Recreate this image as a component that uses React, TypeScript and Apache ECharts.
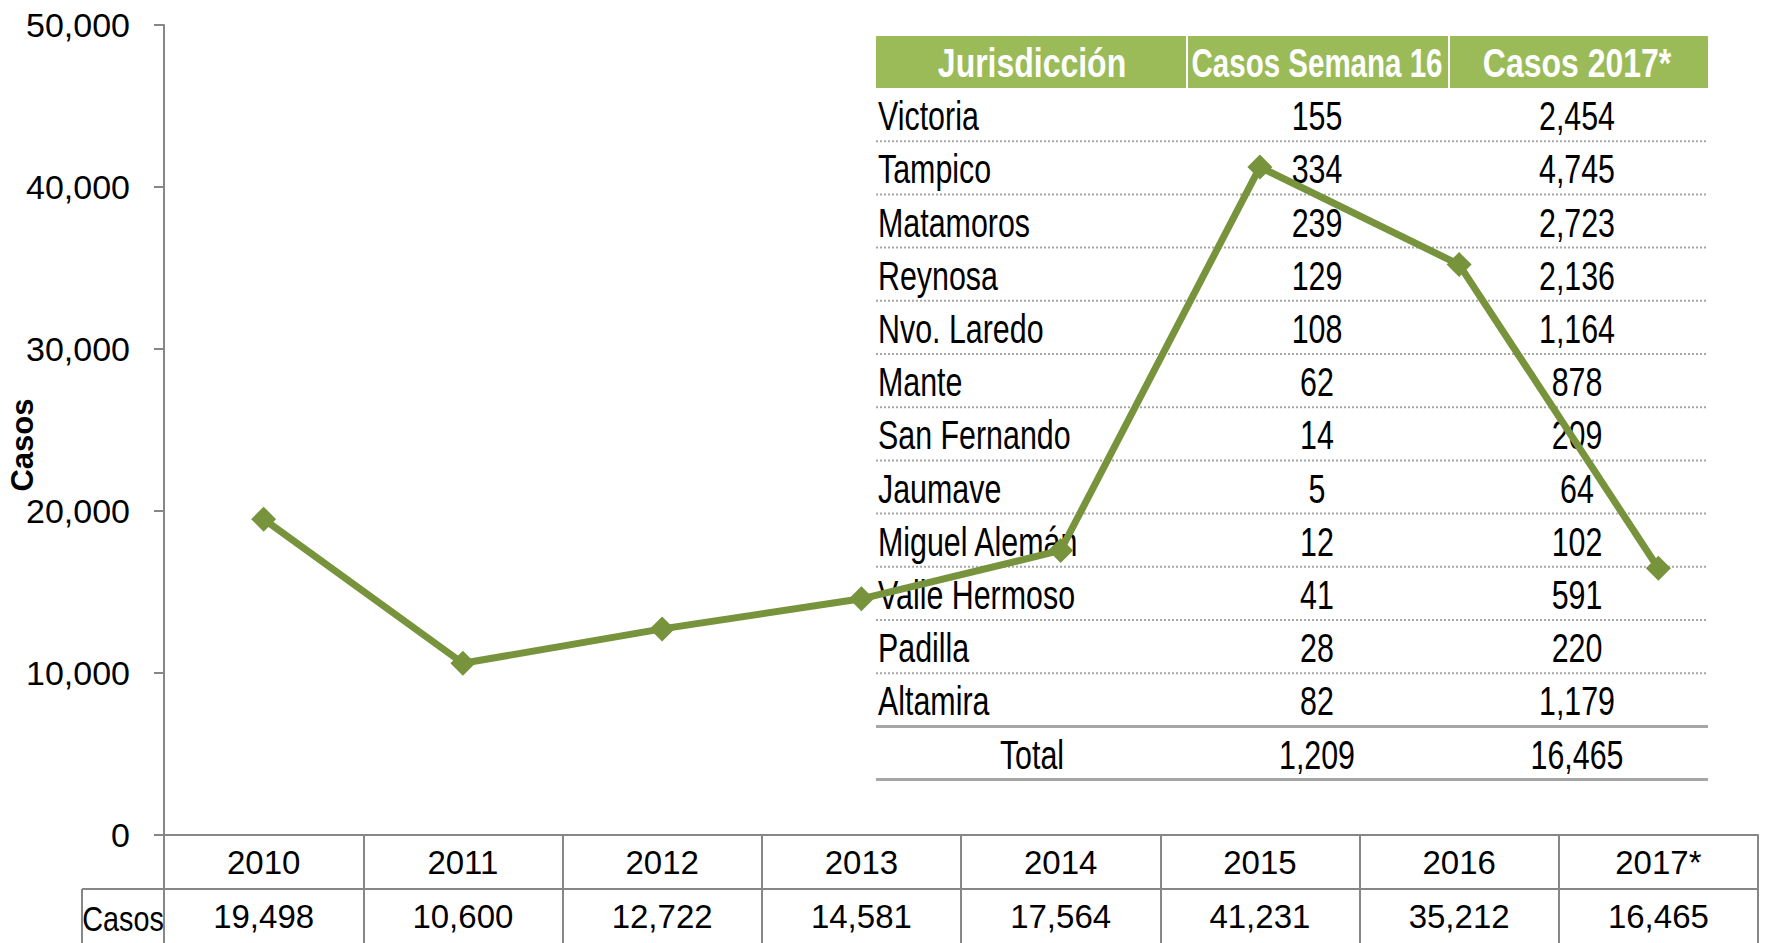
import React, { useEffect, useRef } from "react";
import * as echarts from "echarts";

const years = ["2010", "2011", "2012", "2013", "2014", "2015", "2016", "2017*"];
const casos = [19498, 10600, 12722, 14581, 17564, 41231, 35212, 16465];

const tableHeaders = ["Jurisdicción", "Casos Semana 16", "Casos 2017*"];
const jurisdicciones = [
  "Victoria", "Tampico", "Matamoros", "Reynosa", "Nvo. Laredo", "Mante",
  "San Fernando", "Jaumave", "Miguel Alemán", "Valle Hermoso", "Padilla", "Altamira",
];
const casosSemana16 = [155, 334, 239, 129, 108, 62, 14, 5, 12, 41, 28, 82];
const casos2017 = [2454, 4745, 2723, 2136, 1164, 878, 209, 64, 102, 591, 220, 1179];
const totalLabel = "Total";
const totalSemana16 = 1209;
const totalCasos2017 = 16465;
const rowLabel = "Casos";

const FONT = "'Liberation Sans', Arial, sans-serif";
const GREEN = "#77933C";
const HEADER_GREEN = "#9BBB59";
const GRAY = "#878787";
const LINE_GRAY = "#A6A6A6";

const fmt = (n: number) => n.toLocaleString("en-US");

export default function App() {
  const ref = useRef<HTMLDivElement>(null);
  useEffect(() => {
    if (!ref.current) return;
    const chart = echarts.init(ref.current, undefined, { renderer: "svg" });

    const tLeft = 876, tRight = 1708, hTop = 36, hBottom = 88, rowH = 53.2;
    const sep1 = 1187, sep2 = 1449;
    const c1 = 878, c1c = 1032, c2 = 1317, c3 = 1577;
    const SX = 0.76;
    const txt = (x: number, y: number, text: string, align: string, extra: any = {}, sx = SX) => ({
      type: "text", z: 3, x, y, scaleX: sx,
      style: { text, fontFamily: FONT, fontSize: 40, fill: "#000", align, verticalAlign: "middle", ...extra },
    });

    const g: any[] = [];
    g.push({ type: "rect", z: 1, shape: { x: tLeft, y: hTop, width: tRight - tLeft, height: hBottom - hTop }, style: { fill: HEADER_GREEN } });
    g.push({ type: "line", z: 2, shape: { x1: sep1, y1: hTop, x2: sep1, y2: hBottom }, style: { stroke: "#fff", lineWidth: 2 } });
    g.push({ type: "line", z: 2, shape: { x1: sep2, y1: hTop, x2: sep2, y2: hBottom }, style: { stroke: "#fff", lineWidth: 2 } });
    [c1c, c2, c3].forEach((cx, i) => {
      g.push(txt(cx, (hTop + hBottom) / 2 + 1, tableHeaders[i], "center", { fill: "#fff", fontWeight: "bold", fontSize: 41 }, i === 1 ? 0.72 : 0.78));
    });
    jurisdicciones.forEach((name, i) => {
      const cy = hBottom + rowH * (i + 0.5) + 2;
      g.push(txt(c1, cy, name, "left"));
      g.push(txt(c2, cy, fmt(casosSemana16[i]), "center"));
      g.push(txt(c3, cy, fmt(casos2017[i]), "center"));
      const ly = hBottom + rowH * (i + 1);
      if (i < jurisdicciones.length - 1) {
        g.push({ type: "line", z: 2, shape: { x1: tLeft, y1: ly, x2: tRight, y2: ly }, style: { stroke: LINE_GRAY, lineWidth: 2, lineDash: [2, 2] } });
      } else {
        g.push({ type: "line", z: 2, shape: { x1: tLeft, y1: ly, x2: tRight, y2: ly }, style: { stroke: LINE_GRAY, lineWidth: 3 } });
      }
    });
    const totY = hBottom + rowH * jurisdicciones.length;
    g.push(txt(c1c, totY + rowH / 2 + 2, totalLabel, "center"));
    g.push(txt(c2, totY + rowH / 2 + 2, fmt(totalSemana16), "center"));
    g.push(txt(c3, totY + rowH / 2 + 2, fmt(totalCasos2017), "center"));
    g.push({ type: "line", z: 2, shape: { x1: tLeft, y1: totY + rowH, x2: tRight, y2: totY + rowH }, style: { stroke: LINE_GRAY, lineWidth: 3 } });

    // data table under the x axis
    g.push({ type: "line", z: 2, shape: { x1: 82, y1: 889, x2: 1758, y2: 889 }, style: { stroke: GRAY, lineWidth: 2 } });
    g.push({ type: "line", z: 2, shape: { x1: 82, y1: 889, x2: 82, y2: 943 }, style: { stroke: GRAY, lineWidth: 2 } });
    g.push(txt(123, 918, rowLabel, "center", { fontSize: 36 }, 0.8));

    chart.setOption({
      animation: false,
      grid: { left: 164, top: 25, right: 7, bottom: 108, containLabel: false, outerBoundsMode: "none" },
      xAxis: {
        type: "category",
        data: years,
        boundaryGap: true,
        axisLine: { lineStyle: { color: GRAY, width: 2 } },
        axisTick: { show: true, interval: 0, length: 108, alignWithLabel: false, lineStyle: { color: GRAY, width: 2 } },
        axisLabel: {
          interval: 0,
          margin: 0,
          fontFamily: FONT,
          fontSize: 33,
          color: "#000",
          lineHeight: 54,
          formatter: (v: string, i: number) => `${v}\n${fmt(casos[i])}`,
        },
        splitLine: { show: false },
      },
      yAxis: {
        type: "value",
        min: 0,
        max: 50000,
        interval: 10000,
        name: "Casos",
        nameLocation: "middle",
        nameRotate: 90,
        nameGap: 126,
        nameMoveOverlap: false,
        nameTextStyle: { fontFamily: FONT, fontWeight: "bold", fontSize: 31, color: "#000", padding: [0, 30, 0, 0] },
        axisLine: { show: true, lineStyle: { color: GRAY, width: 2 } },
        axisTick: { show: true, length: 10, lineStyle: { color: GRAY, width: 2 } },
        axisLabel: { fontFamily: FONT, fontSize: 34, color: "#000", margin: 34, formatter: (v: number) => fmt(v) },
        splitLine: { show: false },
      },
      series: [
        {
          type: "line",
          data: casos,
          z: 10,
          symbol: "diamond",
          symbolSize: 25,
          lineStyle: { color: GREEN, width: 7 },
          itemStyle: { color: GREEN },
        },
      ],
      graphic: g,
    });
    return () => chart.dispose();
  }, []);
  return <div ref={ref} style={{ position: "absolute", left: 0, top: 0, width: 1765, height: 943, background: "#fff" }} />;
}
